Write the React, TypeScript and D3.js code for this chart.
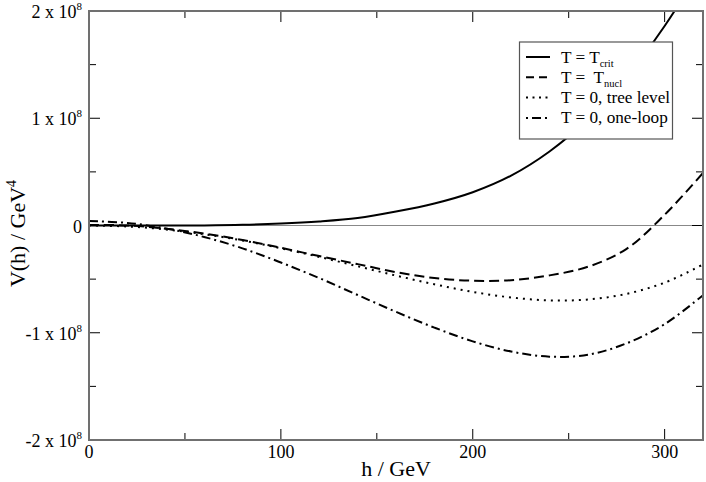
import * as d3 from "d3";

// h in GeV, potential in units of 1e8 GeV^4
const hGrid = [0, 20, 40, 60, 80, 100, 120, 140, 160, 180, 200, 220, 240, 260, 280, 300, 320];
const vCrit = [0, 0, 0, 0.001, 0.006, 0.018, 0.038, 0.07, 0.13, 0.205, 0.31, 0.465, 0.69, 0.99, 1.38, 1.86, 2.43];
const vNucl = [0.005, 0, -0.03, -0.075, -0.135, -0.208, -0.285, -0.36, -0.435, -0.49, -0.515, -0.51, -0.465, -0.385, -0.22, 0.1, 0.49];
const vTree = [0, -0.009, -0.037, -0.081, -0.14, -0.212, -0.293, -0.38, -0.467, -0.548, -0.619, -0.671, -0.698, -0.69, -0.638, -0.533, -0.364];
const vLoop = [0.042, 0.024, -0.027, -0.107, -0.213, -0.345, -0.49, -0.648, -0.805, -0.952, -1.08, -1.175, -1.223, -1.205, -1.1, -0.92, -0.65];

const xMajor = [0, 100, 200, 300];
const xMinor = [50, 150, 250];
const yMajor = [2, 1, 0, -1, -2];
const yMinor = [1.5, 0.5, -0.5, -1.5];
const yTickText = ["2 x 10", "1 x 10", "0", "-1 x 10", "-2 x 10"];

const legendMain = ["T = T", "T =  T", "T = 0, tree level", "T = 0, one-loop"];
const legendSub = ["crit", "nucl", "", ""];

const series = [vCrit, vNucl, vTree, vLoop];
const dashes = ["none", "10,5", "2,5", "9,4,2,4"];
const legendDashes = ["none", "8,5", "2,4.5", "2,4,9,4"];

const W = 706, H = 482;
const L = 89, R = 703, T = 11, B = 440;
const font = "'Liberation Serif', 'Times New Roman', serif";

export default function App() {
  const x = d3.scaleLinear().domain([0, 320]).range([L, R]);
  const y = d3.scaleLinear().domain([-2, 2]).range([B, T]);
  const line = d3.line<number>()
    .x((_, i) => x(hGrid[i]))
    .y(d => y(d))
    .curve(d3.curveCatmullRom);

  const frame = "#707070";

  return (
    <svg width={W} height={H} style={{ position: "absolute", left: 0, top: 0, background: "#fff" }} fontFamily={font}>
      <defs>
        <clipPath id="plot">
          <rect x={L} y={T} width={R - L} height={B - T} />
        </clipPath>
      </defs>

      {/* zero line */}
      <line x1={L} x2={R} y1={y(0)} y2={y(0)} stroke="#888" strokeWidth={1.2} />

      <g clipPath="url(#plot)" fill="none" stroke="#000" strokeWidth={2}>
        {series.map((s, i) => (
          <path key={i} d={line(s) || ""} strokeDasharray={dashes[i]} />
        ))}
      </g>

      {/* ticks */}
      <g stroke="#000" strokeWidth={1}>
        {xMajor.map(v => (
          <g key={"xm" + v}>
            <line x1={x(v)} x2={x(v)} y1={B} y2={B - 11} />
            <line x1={x(v)} x2={x(v)} y1={T} y2={T + 11} />
          </g>
        ))}
        {xMinor.map(v => (
          <g key={"xn" + v}>
            <line x1={x(v)} x2={x(v)} y1={B} y2={B - 7} />
            <line x1={x(v)} x2={x(v)} y1={T} y2={T + 7} />
          </g>
        ))}
        {yMajor.map(v => (
          <g key={"ym" + v}>
            <line x1={L} x2={L + 11} y1={y(v)} y2={y(v)} />
            <line x1={R} x2={R - 11} y1={y(v)} y2={y(v)} />
          </g>
        ))}
        {yMinor.map(v => (
          <g key={"yn" + v}>
            <line x1={L} x2={L + 7} y1={y(v)} y2={y(v)} />
            <line x1={R} x2={R - 7} y1={y(v)} y2={y(v)} />
          </g>
        ))}
      </g>

      <rect x={L} y={T} width={R - L} height={B - T} fill="none" stroke={frame} strokeWidth={2} />

      {/* tick labels */}
      <g fontSize={18} fill="#000">
        {xMajor.map(v => (
          <text key={"xl" + v} x={x(v)} y={B + 18} textAnchor="middle">{v}</text>
        ))}
        {yMajor.map((v, i) => (
          <text key={"yl" + v} x={82} y={y(v) + 7} textAnchor="end">
            {yTickText[i]}
            {v !== 0 && <tspan dy={-8} fontSize={11}>8</tspan>}
          </text>
        ))}
      </g>

      {/* axis titles */}
      <text x={(L + R) / 2} y={476} fontSize={22} textAnchor="middle">h / GeV</text>
      <text transform={`translate(25,${(T + B) / 2 + 8}) rotate(-90)`} fontSize={22} textAnchor="middle">
        V(h) / GeV<tspan dy={-9} fontSize={14}>4</tspan>
      </text>

      {/* legend */}
      <g>
        <rect x={519.5} y={42} width={153} height={97} fill="#fff" stroke="#555" strokeWidth={1.2} />
        {legendMain.map((lab, i) => {
          const ly = 57 + i * 20.3;
          return (
            <g key={"lg" + i}>
              <line x1={526} x2={550} y1={ly} y2={ly} stroke="#000" strokeWidth={2} strokeDasharray={legendDashes[i]} />
              <text x={561} y={ly + 5.5} fontSize={17.2} style={{ whiteSpace: "pre" }}>
                {lab}
                {legendSub[i] && <tspan dy={4} fontSize={10.5}>{legendSub[i]}</tspan>}
              </text>
            </g>
          );
        })}
      </g>
    </svg>
  );
}
